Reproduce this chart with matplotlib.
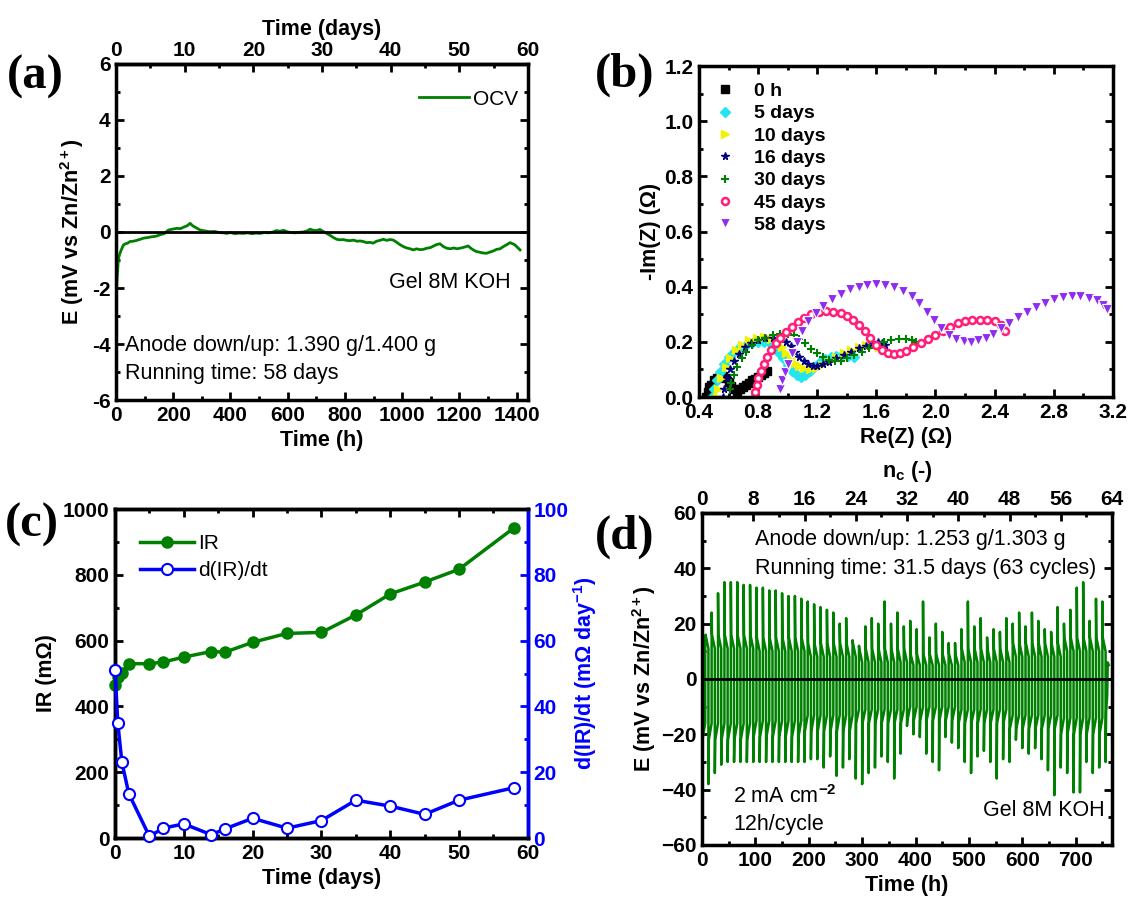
import numpy as np
import matplotlib.pyplot as plt
from matplotlib.ticker import MultipleLocator, FuncFormatter

plt.rcParams['font.family'] = ['Liberation Sans', 'DejaVu Sans']
plt.rcParams['font.weight'] = 'bold'
plt.rcParams['axes.labelweight'] = 'bold'
plt.rcParams['axes.unicode_minus'] = False
plt.rcParams['mathtext.fontset'] = 'custom'
plt.rcParams['mathtext.rm'] = 'Liberation Sans:bold'
plt.rcParams['mathtext.it'] = 'Liberation Sans:bold'
plt.rcParams['mathtext.default'] = 'rm'

# ---------------- (a) OCV vs time ----------------
ocv = [(0, -2.15), (1, -2.05), (2, -1.95), (4, -1.6), (6, -1.3), (8, -1.0), (11, -0.85),
       (15, -0.72), (20, -0.6), (26, -0.46), (33, -0.42), (40, -0.4), (49, -0.34), (60, -0.33),
       (72, -0.3), (85, -0.26), (96, -0.22), (110, -0.2), (125, -0.17), (140, -0.15), (154, -0.1),
       (168, -0.06), (183, 0.07), (197, 0.1), (212, 0.13), (225, 0.12), (238, 0.18), (248, 0.22),
       (259, 0.31), (268, 0.22), (280, 0.15), (294, 0.07), (310, 0.04), (329, 0.01), (345, 0.02),
       (360, -0.02), (375, -0.03), (387, -0.05), (400, -0.02), (415, -0.06), (430, -0.04),
       (445, -0.05), (460, -0.03), (475, -0.06), (490, -0.04), (503, -0.05), (518, -0.02),
       (533, -0.03), (548, 0.0), (560, 0.05), (573, 0.03), (586, 0.06), (600, 0.0), (613, -0.02),
       (626, -0.03), (640, -0.01), (655, 0.0), (668, 0.04), (678, 0.1), (690, 0.06), (701, 0.05),
       (712, 0.09), (724, 0.02), (736, -0.05), (748, -0.12), (760, -0.2), (771, -0.26),
       (783, -0.28), (795, -0.27), (806, -0.3), (818, -0.31), (830, -0.29), (842, -0.33),
       (853, -0.32), (864, -0.34), (876, -0.38), (888, -0.37), (899, -0.4), (910, -0.33),
       (922, -0.3), (934, -0.26), (946, -0.3), (958, -0.27), (969, -0.29), (980, -0.36),
       (992, -0.45), (1004, -0.52), (1016, -0.57), (1028, -0.6), (1039, -0.64), (1050, -0.6),
       (1062, -0.63), (1074, -0.62), (1086, -0.58), (1098, -0.56), (1110, -0.5), (1120, -0.45),
       (1132, -0.42), (1144, -0.52), (1156, -0.58), (1168, -0.6), (1180, -0.57), (1192, -0.6),
       (1202, -0.58), (1214, -0.55), (1224, -0.52), (1231, -0.5), (1240, -0.58), (1250, -0.65),
       (1260, -0.7), (1270, -0.72), (1283, -0.75), (1295, -0.76), (1306, -0.72), (1318, -0.68),
       (1330, -0.62), (1342, -0.6), (1354, -0.52), (1366, -0.45), (1377, -0.38), (1386, -0.42),
       (1394, -0.46), (1403, -0.55), (1412, -0.64)]

# ---------------- (b) Nyquist ----------------
nyq_labels = ['0 h', '5 days', '10 days', '16 days', '30 days', '45 days', '58 days']
nyq_0h = [(0.45, 0.0), (0.46, 0.02), (0.47, 0.035), (0.48, 0.045), (0.50, 0.06), (0.52, 0.07),
          (0.54, 0.077), (0.56, 0.078), (0.58, 0.07), (0.60, 0.055), (0.62, 0.04), (0.64, 0.028),
          (0.66, 0.022), (0.68, 0.03), (0.70, 0.038), (0.72, 0.045), (0.74, 0.052), (0.76, 0.06),
          (0.78, 0.067), (0.80, 0.074), (0.82, 0.08), (0.84, 0.087), (0.86, 0.093)]
nyq_5d = [(0.49, 0.0), (0.50, 0.03), (0.52, 0.06), (0.54, 0.09), (0.57, 0.12), (0.60, 0.145),
          (0.64, 0.165), (0.68, 0.18), (0.72, 0.19), (0.76, 0.197), (0.80, 0.20), (0.84, 0.20),
          (0.88, 0.195), (0.91, 0.18), (0.94, 0.16), (0.97, 0.14), (1.00, 0.115), (1.03, 0.095),
          (1.06, 0.08), (1.09, 0.074), (1.12, 0.08), (1.15, 0.095), (1.18, 0.11), (1.21, 0.125),
          (1.25, 0.138), (1.29, 0.146), (1.33, 0.15), (1.37, 0.152), (1.41, 0.15), (1.45, 0.145)]
nyq_10d = [(0.52, 0.0), (0.53, 0.03), (0.55, 0.07), (0.58, 0.11), (0.61, 0.14), (0.65, 0.17),
           (0.69, 0.19), (0.74, 0.205), (0.79, 0.213), (0.84, 0.216), (0.89, 0.212), (0.93, 0.20),
           (0.96, 0.18), (0.99, 0.16), (1.02, 0.14), (1.05, 0.125), (1.08, 0.113), (1.11, 0.105),
           (1.15, 0.10), (1.19, 0.105), (1.23, 0.115), (1.28, 0.13), (1.33, 0.145), (1.38, 0.158),
           (1.43, 0.17), (1.48, 0.18), (1.53, 0.187), (1.58, 0.19), (1.62, 0.18), (1.65, 0.17)]
nyq_16d = [(0.56, 0.0), (0.57, 0.03), (0.59, 0.07), (0.61, 0.10), (0.64, 0.13), (0.67, 0.155),
           (0.71, 0.18), (0.75, 0.195), (0.80, 0.207), (0.85, 0.213), (0.90, 0.215), (0.95, 0.21),
           (0.99, 0.20), (1.02, 0.185), (1.05, 0.165), (1.08, 0.145), (1.11, 0.13), (1.14, 0.12),
           (1.17, 0.114), (1.20, 0.113), (1.24, 0.118), (1.28, 0.128), (1.33, 0.14), (1.38, 0.153),
           (1.43, 0.165), (1.48, 0.176), (1.53, 0.186), (1.57, 0.195), (1.61, 0.20), (1.64, 0.195),
           (1.66, 0.188)]
nyq_30d = [(0.61, 0.03), (0.62, 0.05), (0.64, 0.08), (0.66, 0.11), (0.69, 0.14), (0.72, 0.165),
           (0.76, 0.19), (0.80, 0.205), (0.85, 0.215), (0.90, 0.225), (0.95, 0.23), (1.00, 0.23),
           (1.04, 0.225), (1.08, 0.21), (1.12, 0.195), (1.16, 0.175), (1.20, 0.16), (1.24, 0.145),
           (1.28, 0.135), (1.32, 0.13), (1.36, 0.132), (1.40, 0.14), (1.45, 0.152), (1.50, 0.165),
           (1.55, 0.178), (1.60, 0.19), (1.65, 0.20), (1.70, 0.207), (1.75, 0.21), (1.80, 0.21),
           (1.84, 0.205), (1.87, 0.20)]
nyq_45d = [(0.78, 0.0), (0.78, 0.02), (0.79, 0.045), (0.80, 0.07), (0.82, 0.095), (0.84, 0.12),
           (0.86, 0.145), (0.89, 0.17), (0.92, 0.195), (0.95, 0.215), (0.99, 0.235), (1.03, 0.255),
           (1.07, 0.272), (1.11, 0.287), (1.16, 0.30), (1.21, 0.308), (1.26, 0.312), (1.31, 0.31),
           (1.36, 0.305), (1.40, 0.295), (1.44, 0.28), (1.48, 0.262), (1.52, 0.24), (1.56, 0.215),
           (1.60, 0.19), (1.64, 0.17), (1.68, 0.16), (1.72, 0.157), (1.76, 0.16), (1.80, 0.168),
           (1.85, 0.18), (1.90, 0.195), (1.95, 0.21), (2.00, 0.225), (2.05, 0.24), (2.10, 0.255),
           (2.15, 0.267), (2.20, 0.275), (2.25, 0.279), (2.30, 0.28), (2.35, 0.28), (2.40, 0.275),
           (2.44, 0.26), (2.47, 0.24)]
nyq_58d = [(0.95, 0.03), (0.96, 0.06), (0.98, 0.09), (1.00, 0.12), (1.03, 0.16), (1.06, 0.20),
           (1.10, 0.24), (1.14, 0.275), (1.19, 0.305), (1.24, 0.33), (1.30, 0.355), (1.36, 0.375),
           (1.42, 0.39), (1.48, 0.40), (1.54, 0.405), (1.60, 0.408), (1.66, 0.407), (1.72, 0.40),
           (1.78, 0.385), (1.84, 0.365), (1.89, 0.34), (1.94, 0.31), (1.99, 0.28), (2.04, 0.25),
           (2.09, 0.225), (2.14, 0.21), (2.19, 0.202), (2.24, 0.20), (2.29, 0.205), (2.34, 0.215),
           (2.39, 0.23), (2.44, 0.25), (2.50, 0.27), (2.56, 0.29), (2.62, 0.31), (2.68, 0.327),
           (2.74, 0.342), (2.80, 0.355), (2.86, 0.362), (2.92, 0.365), (2.98, 0.365), (3.04, 0.36),
           (3.09, 0.35), (3.13, 0.335), (3.16, 0.318)]

# ---------------- (c) IR ----------------
ir_days = [0, 0.4, 1, 2, 5, 7, 10, 14, 16, 20, 25, 30, 35, 40, 45, 50, 58]
ir_vals = [465, 488, 503, 530, 530, 535, 550, 567, 565, 595, 622, 625, 678, 742, 778, 817, 943]
dir_vals = [51, 35, 23, 13.5, 0.5, 3, 4.3, 1, 2.8, 6, 3, 5.3, 11.5, 9.7, 7.2, 11.5, 15.3]

# ---------------- (d) cycling ----------------
peak = [14, 24, 31, 35, 35, 35, 34, 34, 33, 33, 32, 32, 31, 30, 30, 29, 28, 27, 26, 25, 24,
        20, 22, 14, 12, 19, 22, 20, 28, 20, 24, 19, 21, 18, 28, 15, 20, 17, 13, 13, 18, 28,
        19, 22, 15, 18, 17, 22, 20, 24, 19, 24, 21, 18, 17, 26, 20, 25, 33, 35, 21, 29, 28]
trough = [65, 38, 34, 31, 30, 30, 30, 30, 30, 30, 30, 30, 30, 30, 30, 30, 30, 29, 29, 32, 28,
          35, 32, 29, 36, 38, 34, 32, 28, 30, 36, 27, 17, 20, 21, 27, 30, 33, 21, 23, 25, 30,
          34, 28, 26, 30, 36, 29, 30, 22, 25, 27, 25, 29, 33, 42, 32, 34, 41, 41, 30, 34, 32]
hi_start = [16, 15, 13, 11, 9, 11, 13, 15]
hi_end = [11, 10, 8, 6, 5, 6, 8, 10]
lo_start = [-22, -21, -19, -16, -15, -16, -18, -20]
lo_end = [-16, -15, -13, -11, -10, -11, -13, -14]
tail_t = [756, 757, 759, 760, 762]
tail_v = [-30, -12, -6, 6, 5]

GREEN = '#008000'
TICK = 15
LAB = 15.5


def style(ax, top=True, right=True):
    for s in ax.spines.values():
        s.set_linewidth(2.5)
    ax.tick_params(which='both', direction='in', width=2, top=top, right=right,
                   labelsize=TICK, pad=4)
    ax.tick_params(which='major', length=6)
    ax.tick_params(which='minor', length=3)


def style_sec(sec):
    sec.spines['top'].set_linewidth(2.5)
    sec.tick_params(which='both', direction='in', width=2, labelsize=TICK, pad=3)
    sec.tick_params(which='major', length=6)
    sec.tick_params(which='minor', length=3)


fig = plt.figure(figsize=(11.31, 9.05), dpi=100)

# ======== (a) ========
ax = fig.add_axes([0.1026, 0.558, 0.3643, 0.3713])
t, v = zip(*ocv)
ax.plot(t, v, color=GREEN, lw=2, label='OCV')
ax.axhline(0, color='black', lw=2)
ax.set_xlim(0, 1440)
ax.set_ylim(-6, 6)
ax.xaxis.set_major_locator(MultipleLocator(200))
ax.xaxis.set_minor_locator(MultipleLocator(100))
ax.yaxis.set_major_locator(MultipleLocator(2))
ax.yaxis.set_minor_locator(MultipleLocator(1))
style(ax, top=False)
ax.set_xlabel('Time (h)', fontsize=LAB)
ax.set_ylabel(r'E (mV vs Zn/Zn$^{2+}$)', fontsize=LAB)
sec = ax.secondary_xaxis('top', functions=(lambda h: h / 24, lambda d: d * 24))
sec.xaxis.set_major_locator(MultipleLocator(10))
sec.xaxis.set_minor_locator(MultipleLocator(5))
style_sec(sec)
sec.set_xlabel('Time (days)', fontsize=LAB, labelpad=4)
ax.legend(loc='upper right', bbox_to_anchor=(1.0, 0.955), frameon=False, handlelength=2.4,
          handletextpad=0.15, borderaxespad=0.1, prop={'weight': 'normal', 'size': 15})
ax.text(1380, -1.8, 'Gel 8M KOH', ha='right', va='center', fontsize=15.5, fontweight='normal')
ax.text(30, -4.05, 'Anode down/up: 1.390 g/1.400 g', ha='left', va='center', fontsize=15.5,
        fontweight='normal')
ax.text(30, -5.05, 'Running time: 58 days', ha='left', va='center', fontsize=15.5,
        fontweight='normal')

# ======== (b) ========
ax = fig.add_axes([0.618, 0.5613, 0.366, 0.3657])
series = [nyq_0h, nyq_5d, nyq_10d, nyq_16d, nyq_30d, nyq_45d, nyq_58d]
colors = ['black', '#22E5F0', '#F2F200', '#000080', GREEN, '#FF1F78', '#8F2CF0']
markers = ['s', 'D', '>', '*', '+', 'o', 'v']
for pts, lab, c, m in zip(series, nyq_labels, colors, markers):
    x, y = zip(*pts)
    if m == 'o':
        ax.plot(x, y, ls='none', marker=m, ms=5, mfc='white', mec=c, mew=1.8, label=lab)
    elif m == 'v':
        ax.plot(x, y, ls='none', marker=m, ms=7, mfc=c, mec='white', mew=0.8, label=lab)
    elif m == '+':
        ax.plot(x, y, ls='none', marker=m, ms=6, mec=c, mew=1.5, label=lab)
    else:
        ax.plot(x, y, ls='none', marker=m, ms=5.5, color=c, label=lab)
ax.set_xlim(0.4, 3.2)
ax.set_ylim(0, 1.2)
ax.xaxis.set_major_locator(MultipleLocator(0.4))
ax.xaxis.set_minor_locator(MultipleLocator(0.2))
ax.yaxis.set_major_locator(MultipleLocator(0.2))
ax.yaxis.set_minor_locator(MultipleLocator(0.1))
ax.xaxis.set_major_formatter(FuncFormatter(lambda val, p: f'{val:.1f}'))
ax.yaxis.set_major_formatter(FuncFormatter(lambda val, p: f'{val:.1f}'))
style(ax)
ax.set_xlabel('Re(Z) (Ω)', fontsize=LAB)
ax.set_ylabel('-Im(Z) (Ω)', fontsize=LAB, labelpad=2)
ax.legend(loc='upper left', frameon=False, fontsize=14, handlelength=1.0,
          handletextpad=1.0, labelspacing=0.24, borderaxespad=0.45, markerscale=1.0)

# ======== (c) ========
ax = fig.add_axes([0.1017, 0.074, 0.365, 0.3635])
ax2 = ax.twinx()
l1, = ax.plot(ir_days, ir_vals, color=GREEN, lw=2.5, marker='o', ms=8, label='IR',
              clip_on=False, zorder=3)
l2, = ax2.plot(ir_days, dir_vals, color='blue', lw=2.5, marker='o', ms=8, mfc='white',
               mec='blue', mew=1.5, label='d(IR)/dt', clip_on=False, zorder=3)
ax.set_xlim(0, 60)
ax.set_ylim(0, 1000)
ax2.set_ylim(0, 100)
ax.xaxis.set_major_locator(MultipleLocator(10))
ax.xaxis.set_minor_locator(MultipleLocator(5))
ax.yaxis.set_major_locator(MultipleLocator(200))
ax.yaxis.set_minor_locator(MultipleLocator(100))
ax2.yaxis.set_major_locator(MultipleLocator(20))
ax2.yaxis.set_minor_locator(MultipleLocator(10))
style(ax, right=False)
style(ax2, right=True)
ax2.tick_params(axis='y', which='both', colors='blue', left=False)
ax2.tick_params(axis='x', which='both', top=False, bottom=False)
ax2.spines['right'].set_color('blue')
ax.set_xlabel('Time (days)', fontsize=LAB)
ax.set_ylabel('IR (mΩ)', fontsize=LAB)
ax2.set_ylabel(r'd(IR)/dt (mΩ day$^{-1}$)', fontsize=LAB, color='blue', labelpad=2)
ax2.legend(handles=[l1, l2], loc='upper left', frameon=False, handlelength=2.6,
           handletextpad=0.2, labelspacing=0.4, borderaxespad=0.8,
           prop={'weight': 'normal', 'size': 15})

# ======== (d) ========
ax = fig.add_axes([0.6207, 0.0663, 0.3625, 0.3669])
cyc_t, cyc_v = [], []
for i, (n, p) in enumerate(zip(trough, peak)):
    t0 = 12 * i
    g = i // 8
    cyc_t += [t0, t0 + 0.7, t0 + 6, t0 + 6, t0 + 6.7, t0 + 12]
    cyc_v += [-n, lo_start[g], lo_end[g], p, hi_start[g], hi_end[g]]
cyc_t += tail_t
cyc_v += tail_v
ax.plot(cyc_t, cyc_v, color=GREEN, lw=1.8)
ax.axhline(0, color='black', lw=2)
ax.set_xlim(0, 768)
ax.set_ylim(-60, 60)
ax.xaxis.set_major_locator(MultipleLocator(100))
ax.xaxis.set_minor_locator(MultipleLocator(50))
ax.yaxis.set_major_locator(MultipleLocator(20))
ax.yaxis.set_minor_locator(MultipleLocator(10))
ax.yaxis.set_major_formatter(FuncFormatter(lambda val, p: f'{val:.0f}'.replace('-', '\u2212')))
style(ax, top=False)
ax.set_xlabel('Time (h)', fontsize=LAB)
ax.set_ylabel(r'E (mV vs Zn/Zn$^{2+}$)', fontsize=LAB, labelpad=2)
sec = ax.secondary_xaxis('top', functions=(lambda h: h / 12, lambda n: n * 12))
sec.xaxis.set_major_locator(MultipleLocator(8))
sec.xaxis.set_minor_locator(MultipleLocator(4))
style_sec(sec)
sec.set_xlabel(r'n$_c$ (-)', fontsize=LAB, labelpad=9)
ax.text(100, 50.5, 'Anode down/up: 1.253 g/1.303 g', ha='left', va='center', fontsize=15.5,
        fontweight='normal')
ax.text(100, 40, 'Running time: 31.5 days (63 cycles)', ha='left', va='center', fontsize=15.5,
        fontweight='normal')
ax.text(58, -42.5, r'2 mA cm$^{-2}$', ha='left', va='center', fontsize=15.5,
        fontweight='normal')
ax.text(58, -52.5, '12h/cycle', ha='left', va='center', fontsize=15.5, fontweight='normal')
ax.text(755, -47.5, 'Gel 8M KOH', ha='right', va='center', fontsize=15.5, fontweight='normal')

# panel letters
for x, y, s in [(0.006, 0.915, '(a)'), (0.526, 0.917, '(b)'),
                (0.004, 0.42, '(c)'), (0.526, 0.407, '(d)')]:
    fig.text(x, y, s, fontsize=35, fontweight='bold', family='Liberation Serif',
             ha='left', va='center')

fig.savefig('out.png', dpi=100)
